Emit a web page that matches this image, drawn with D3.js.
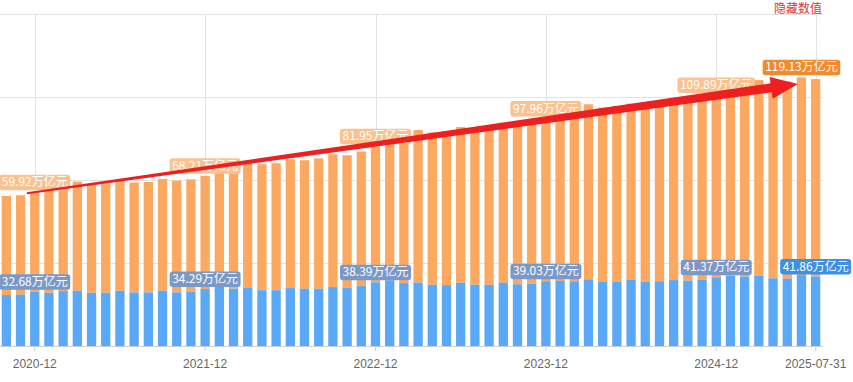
<!DOCTYPE html>
<html><head><meta charset="utf-8">
<script src="https://cdn.jsdelivr.net/npm/d3@7"></script>
<style>
html,body{margin:0;padding:0;background:#fff;}
svg{display:block;}
</style>
</head><body>
<svg id="chart" width="853" height="382"></svg>
<script>
// ---- data ----
const categories = [
 "2020-10","2020-11","2020-12",
 "2021-01","2021-02","2021-03","2021-04","2021-05","2021-06","2021-07","2021-08","2021-09","2021-10","2021-11","2021-12",
 "2022-01","2022-02","2022-03","2022-04","2022-05","2022-06","2022-07","2022-08","2022-09","2022-10","2022-11","2022-12",
 "2023-01","2023-02","2023-03","2023-04","2023-05","2023-06","2023-07","2023-08","2023-09","2023-10","2023-11","2023-12",
 "2024-01","2024-02","2024-03","2024-04","2024-05","2024-06","2024-07","2024-08","2024-09","2024-10","2024-11","2024-12",
 "2025-01","2025-02","2025-03","2025-04","2025-05","2025-06","2025-07-31"
];
// demand deposits (blue, bottom segment), 万亿元
const blueValues = [
 30.7,30.9,32.68,
 32.1,33.1,33.3,32.1,32.1,33.3,32.3,32.3,33.3,32.3,32.7,34.29,
 36.0,34.5,34.9,33.6,33.6,34.9,34.5,34.5,35.5,34.9,36.1,38.39,
 39.6,37.9,38.2,36.9,36.7,38.1,36.9,36.9,38.1,37.2,37.5,39.03,
 39.2,39.0,40.2,38.8,38.8,39.8,38.8,39.0,39.7,39.4,39.8,41.37,
 42.4,41.8,42.3,40.8,40.5,42.7,41.86
];
// time deposits (orange, stacked on top), 万亿元
const orangeValues = [
 59.7,59.9,59.92,
 61.9,62.7,65.7,65.4,65.8,66.2,66.2,66.5,67.3,67.3,67.7,68.21,
 71.8,73.9,75.2,75.9,76.5,77.6,77.4,78.5,80.0,80.0,81.1,81.95,
 86.4,90.1,91.9,91.8,92.8,93.8,93.9,94.6,96.4,96.6,97.3,97.96,
 102.8,104.3,105.4,104.8,105.7,106.2,104.6,105.5,107.3,107.1,108.7,109.89,
 113.1,115.7,117.9,117.7,118.8,119.13,118.94
];
const tickLabels = ["2020-12","2021-12","2022-12","2023-12","2024-12","2025-07-31"];
const yTicks = [0,50,100,150,200];
const orangeLabelCats = ["2020-12","2021-12","2022-12","2023-12","2024-12","2025-06"];
const blueLabelCats = ["2020-12","2021-12","2022-12","2023-12","2024-12","2025-07-31"];
const unit = "万亿元";
const toggleText = "隐藏数值";
// trend arrow annotation, in (category-index, value) space
const arrowFrom = {i: 1.45, v: 92.0};
const arrowTo = {i: 55.75, v: 157.8};

// ---- layout ----
const svg = d3.select("#chart");
const x = d3.scaleBand().domain(categories).range([-1, 823]).paddingInner(0.345).paddingOuter(0.19);
const y = d3.scaleLinear().domain([0, 200]).range([346, 14]);
const cx = c => x(c) + x.bandwidth() / 2;
const cxi = i => x(categories[0]) + i * x.step() + x.bandwidth() / 2;

const colOrange = "#fca860", colBlue = "#5aa8f8";
const font = "'Noto Sans CJK SC','Noto Sans',sans-serif";

// grid
const grid = svg.append("g");
grid.selectAll("line.h").data(yTicks.filter(t => t > 0)).join("line")
  .attr("x1", 0).attr("x2", 823).attr("y1", d => y(d)).attr("y2", d => y(d))
  .attr("stroke", "#e3e3e3").attr("stroke-width", 1).attr("shape-rendering", "crispEdges");
grid.selectAll("line.v").data(tickLabels).join("line")
  .attr("x1", d => Math.round(cx(d)) + 0.5).attr("x2", d => Math.round(cx(d)) + 0.5)
  .attr("y1", y(200)).attr("y2", y(0))
  .attr("stroke", "#e3e3e3").attr("stroke-width", 1);

// bars
const data = categories.map((c, i) => ({c, b: blueValues[i], o: orangeValues[i]}));
svg.append("g").selectAll("rect").data(data).join("rect")
  .attr("x", d => x(d.c)).attr("width", x.bandwidth())
  .attr("y", d => y(d.b + d.o)).attr("height", d => y(d.b) - y(d.b + d.o))
  .attr("fill", colOrange);
svg.append("g").selectAll("rect").data(data).join("rect")
  .attr("x", d => x(d.c)).attr("width", x.bandwidth())
  .attr("y", d => y(d.b)).attr("height", d => y(0) - y(d.b))
  .attr("fill", colBlue);

// x axis
const axis = svg.append("g").attr("transform", `translate(0,${y(0)})`)
  .call(d3.axisBottom(x).tickValues(tickLabels).tickSize(5).tickSizeOuter(0).tickPadding(8));
axis.select(".domain").attr("stroke", "#cfcfcf").attr("d", "M0,0.5H823");
axis.selectAll(".tick line").attr("stroke", "#cfcfcf");
axis.selectAll(".tick text").attr("fill", "#666").style("font-family", "'Liberation Sans',Arial,sans-serif").style("font-size", "12px");

// value labels
function label(cxp, bottom, txt, bg) {
  const g = svg.append("g");
  const t = g.append("text").text(txt).attr("font-family", font).attr("font-size", 12)
    .attr("fill", "#fff").attr("text-anchor", "middle").attr("x", cxp).attr("y", bottom - 4);
  const w = t.node().getComputedTextLength() + 5;
  g.insert("rect", "text").attr("x", cxp - w / 2).attr("y", bottom - 15.5).attr("width", w).attr("height", 15.5)
    .attr("rx", 3).attr("fill", bg);
}
orangeLabelCats.forEach((c, k) => {
  const i = categories.indexOf(c);
  const last = k === orangeLabelCats.length - 1;
  label(cx(c), y(blueValues[i] + orangeValues[i]) - 2, orangeValues[i].toFixed(2) + unit, last ? "#f28b2e" : "#fbc290");
});
blueLabelCats.forEach((c, k) => {
  const i = categories.indexOf(c);
  const last = k === blueLabelCats.length - 1;
  label(cx(c), y(blueValues[i]) - 2, blueValues[i].toFixed(2) + unit, last ? "#3f90e4" : "#7b98c6");
});

// trend arrow
(function () {
  const p0 = [cxi(arrowFrom.i), y(arrowFrom.v)], p1 = [cxi(arrowTo.i), y(arrowTo.v)];
  const dx = p1[0] - p0[0], dy = p1[1] - p0[1], len = Math.hypot(dx, dy);
  const u = [dx / len, dy / len], n = [-u[1], u[0]];
  const L = 27, hw = 11, w0 = 1, w1 = 4.5;
  const pb = [p1[0] - u[0] * L, p1[1] - u[1] * L];
  const P = (p, s) => [p[0] + n[0] * s, p[1] + n[1] * s];
  const pts = [P(p0, w0), P(pb, w1), P(pb, hw), p1, P(pb, -hw), P(pb, -w1), P(p0, -w0)];
  svg.append("path").attr("d", "M" + pts.map(p => p.join(",")).join("L") + "Z").attr("fill", "#ee1f1f");
})();

// toggle text
svg.append("text").text(toggleText).attr("x", 822).attr("y", 13).attr("text-anchor", "end")
  .attr("font-family", font).attr("font-size", 12).attr("fill", "#d9363e");
</script>
</body></html>
